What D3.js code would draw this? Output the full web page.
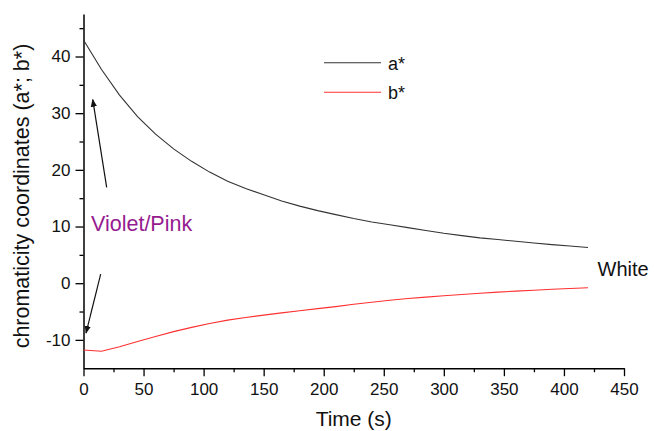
<!DOCTYPE html>
<html>
<head>
<meta charset="utf-8">
<script src="https://cdn.jsdelivr.net/npm/d3@7"></script>
<style>
  body { margin: 0; background: #fff; }
  text { font-family: "Liberation Sans", Arial, sans-serif; }
</style>
</head>
<body>
<div id="chart"></div>
<script>
// Data (time in s)
var time = [0, 15, 30, 45, 60, 75, 90, 105, 120, 135, 150, 165, 180, 195, 210,
            225, 240, 255, 270, 285, 300, 315, 330, 345, 360, 375, 390, 405, 420];
var aStar = [42.9, 37.7, 33.2, 29.4, 26.3, 23.7, 21.5, 19.6, 18.0, 16.7, 15.6, 14.5, 13.6, 12.8, 12.1,
             11.4, 10.8, 10.3, 9.8, 9.3, 8.8, 8.4, 8.0, 7.7, 7.4, 7.1, 6.8, 6.55, 6.3];
var bStar = [-11.8, -12.0, -11.2, -10.3, -9.4, -8.55, -7.8, -7.12, -6.52, -6.05, -5.63, -5.23, -4.85, -4.48, -4.13,
             -3.72, -3.35, -3.0, -2.7, -2.45, -2.22, -2.0, -1.78, -1.58, -1.4, -1.24, -1.08, -0.94, -0.8];
var xTicks = [0, 50, 100, 150, 200, 250, 300, 350, 400, 450];
var yTicks = [-10, 0, 10, 20, 30, 40];

var svgWidth = 654, svgHeight = 431;

var svg = d3.select("#chart").append("svg")
    .attr("width", svgWidth)
    .attr("height", svgHeight);

// scales
var x = d3.scaleLinear().domain([0, 450]).range([83.5, 624]);
var y = d3.scaleLinear().domain([-15, 47.5]).range([368.2, 14]);

// minor ticks
svg.append("g")
    .attr("transform", "translate(0," + y(-15) + ")")
    .call(d3.axisBottom(x).tickValues(d3.range(25, 450, 50)).tickSize(4).tickFormat(""))
    .call(function (g) { g.select(".domain").remove(); });
svg.append("g")
    .attr("transform", "translate(" + x(0) + ",0)")
    .call(d3.axisLeft(y).tickValues(d3.range(-5, 47, 10)).tickSize(4).tickFormat(""))
    .call(function (g) { g.select(".domain").remove(); });

// main axes (hyphen minus like the original)
var fmt = function (d) { return String(d); };
svg.append("g")
    .attr("transform", "translate(0," + y(-15) + ")")
    .call(d3.axisBottom(x).tickValues(xTicks).tickSize(8).tickPadding(7).tickSizeOuter(0).tickFormat(fmt));
svg.append("g")
    .attr("transform", "translate(" + x(0) + ",0)")
    .call(d3.axisLeft(y).tickValues(yTicks).tickSize(8).tickPadding(5).tickSizeOuter(0).tickFormat(fmt));

svg.selectAll(".tick line").attr("stroke", "#000").attr("stroke-width", 1.3);
svg.selectAll(".domain").attr("stroke", "#000").attr("stroke-width", 1.5);
svg.selectAll(".tick text")
    .attr("font-size", 17)
    .attr("font-family", "Liberation Sans, Arial, sans-serif")
    .attr("fill", "#111");

// axis titles
svg.append("text")
    .attr("x", x(225))
    .attr("y", 426)
    .attr("text-anchor", "middle")
    .attr("font-size", 21)
    .attr("fill", "#111")
    .text("Time (s)");

svg.append("text")
    .attr("transform", "translate(29," + 196 + ") rotate(-90)")
    .attr("text-anchor", "middle")
    .attr("font-size", 21.5)
    .attr("fill", "#111")
    .text("chromaticity coordinates (a*; b*)");

// lines
var line = function (vals) {
    return d3.line()
        .x(function (d, i) { return x(time[i]); })
        .y(function (d) { return y(d); })(vals);
};

svg.append("path")
    .attr("d", line(aStar))
    .attr("fill", "none")
    .attr("stroke", "#333")
    .attr("stroke-width", 1.1);

svg.append("path")
    .attr("d", line(bStar))
    .attr("fill", "none")
    .attr("stroke", "#ff3030")
    .attr("stroke-width", 1.1);

// legend
var legend = [{ name: "a*", color: "#333", y: 62.7 }, { name: "b*", color: "#ff3030", y: 92.3 }];
legend.forEach(function (d) {
    svg.append("line")
        .attr("x1", 324).attr("x2", 381)
        .attr("y1", d.y).attr("y2", d.y)
        .attr("stroke", d.color)
        .attr("stroke-width", 1.1);
    svg.append("text")
        .attr("x", 388)
        .attr("y", d.y + 7)
        .attr("font-size", 18)
        .attr("fill", "#111")
        .text(d.name);
});

// arrows
svg.append("defs").append("marker")
    .attr("id", "head")
    .attr("viewBox", "0 0 10 10")
    .attr("refX", 9).attr("refY", 5)
    .attr("markerWidth", 8).attr("markerHeight", 8)
    .attr("markerUnits", "userSpaceOnUse")
    .attr("orient", "auto")
    .append("path")
    .attr("d", "M0,1 L10,5 L0,9 Z")
    .attr("fill", "#111");

var arrows = [
    { t1: 19.3, v1: 16.9, t2: 7.7, v2: 32.4 },
    { t1: 14.3, v1: 1.6, t2: 2.1, v2: -8.8 }
];
arrows.forEach(function (a) {
    svg.append("line")
        .attr("x1", x(a.t1)).attr("y1", y(a.v1))
        .attr("x2", x(a.t2)).attr("y2", y(a.v2))
        .attr("stroke", "#111")
        .attr("stroke-width", 1.2)
        .attr("marker-end", "url(#head)");
});

// annotations
svg.append("text")
    .attr("x", x(6.25))
    .attr("y", y(9.2))
    .attr("font-size", 21.5)
    .attr("fill", "#961b8f")
    .text("Violet/Pink");

svg.append("text")
    .attr("x", x(428))
    .attr("y", y(1.3))
    .attr("font-size", 20)
    .attr("fill", "#111")
    .text("White");
</script>
</body>
</html>
